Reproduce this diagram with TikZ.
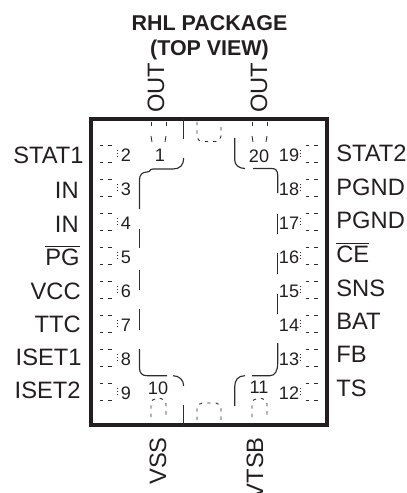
\documentclass[tikz,border=0pt]{standalone}
\usepackage{fontspec}
\setmainfont{Liberation Sans}
\usetikzlibrary{positioning}
\definecolor{pkgblack}{RGB}{35,31,32}
\definecolor{padgrey}{RGB}{45,45,45}
\newcommand{\barlabel}[1]{$\overline{\mbox{#1}}$}

\begin{document}
\begin{tikzpicture}[
    x=0.02cm,y=-0.02cm,
    pinname/.style={draw=none,inner sep=0pt,text=pkgblack,font=\fontsize{13.5}{15}\selectfont},
    pinnum/.style={draw=none,inner sep=0pt,text=pkgblack,font=\fontsize{10.3}{12}\selectfont},
    padline/.style={draw=padgrey,line width=0.5pt,dash pattern=on 1.9pt off 2.8pt},
    padside/.style={draw=padgrey,line width=0.5pt,dash pattern=on 0.7pt off 1.1pt},
    padsolid/.style={draw=padgrey,line width=0.5pt},
    outline/.style={draw=padgrey,line width=0.65pt},
]
\useasboundingbox (0,0) rectangle (406,493);

% Title
\node[draw=none,inner sep=0pt,align=center,text=pkgblack,font=\fontsize{12.2}{14.2}\selectfont\bfseries] (title) at (209.5,37.5) {RHL PACKAGE\\(TOP VIEW)};

% Package body
\draw[draw=pkgblack,line width=2.2pt] (91,119) rectangle (327,425);

% Left pins
\foreach \n/\lbl/\base/\edge in {2/STAT1/164/84,3/IN/198/79,4/IN/232/79,5/{\barlabel{PG}}/265/80,6/VCC/299/81,7/TTC/332/81,8/ISET1/365/82,9/ISET2/398/81}{
  \pgfmathsetmacro{\py}{153.5+34*(\n-2)}
  \node[pinname,anchor=base east] (name\n) at (\edge,\base) {\lbl};
  \node[pinnum] (num\n) at (126,\py+1.5) {\n};
  \draw[padline] (100,\py-8.5) -- (112,\py-8.5);
  \draw[padline] (100,\py+8.5) -- (112,\py+8.5);
  \draw[padside] (117,\py-3.5) -- (117,\py+3.5);
}

% Right pins
\foreach \n/\lbl/\base/\row in {19/STAT2/162/0,18/PGND/195/1,17/PGND/228/2,16/{\barlabel{CE}}/262/3,15/SNS/296/4,14/BAT/329/5,13/FB/362/6,12/TS/396/7}{
  \pgfmathsetmacro{\py}{153.5+34*\row}
  \node[pinname,anchor=base west] (name\n) at (336,\base) {\lbl};
  \node[pinnum] (num\n) at (289,\py+2) {\n};
  \draw[padline] (306,\py-8.5) -- (319,\py-8.5);
  \draw[padline] (306,\py+8.5) -- (319,\py+8.5);
  \draw[padside] (300,\py-3.5) -- (300,\py+3.5);
}

% Top and bottom pin names
\node[pinname,rotate=90,anchor=west] (out1) at (156,113) {OUT};
\node[pinname,rotate=90,anchor=west] (out20) at (259,113) {OUT};
\node[pinname,rotate=90,anchor=east] (vss) at (158,437) {VSS};
\node[pinname,rotate=90,anchor=east] (vtsb) at (255,437) {VTSB};

\node[pinnum] (num1) at (160,155) {1};
\node[pinnum] (num20) at (259,156) {20};
\node[pinnum] (num10) at (158,388) {10};
\node[pinnum] (num11) at (259,387) {11};

% Top pads
\foreach \xa/\xb in {151/166,252/267}{
  \draw[padsolid] (\xa,122) -- (\xa,126);
  \draw[padsolid] (\xb,122) -- (\xb,126);
  \draw[padsolid] (\xa,136) -- (\xa+1,142);
  \draw[padsolid] (\xb,136) -- (\xb-1,142);
}
\draw[padline,rounded corners=3pt] (197,122) -- (197,141.5) -- (221,141.5) -- (221,122);

% Bottom pads
\foreach \xa/\xb in {151/166,252/267}{
  \draw[padline,rounded corners=3pt] (\xa,417) -- (\xa,398.5) -- (\xb,398.5) -- (\xb,417);
}
\draw[padline,rounded corners=3pt] (197,420) -- (197,403) -- (221,403) -- (221,420);

% Thermal pad outline
\draw[outline] (183.7,119) -- (183.7,139);
\draw[outline] (183.7,158) .. controls (183.7,165) and (180,169) .. (173,169) -- (153,169) .. controls (149,169) and (151,172) .. (147,172) .. controls (142,172) and (139.5,175) .. (139.5,180) -- (139.5,209);
\draw[outline] (139.5,229) -- (139.5,248);
\draw[outline] (139.5,270) -- (139.5,290);
\draw[outline] (139.5,309) -- (139.5,330);
\draw[outline] (139.5,349) -- (139.5,368) .. controls (139.5,373) and (142,375.7) .. (147,375.7) -- (167,375.7);
\draw[outline] (173,375.7) .. controls (179,375.7) and (183.7,380) .. (183.7,386);
\draw[outline] (183.7,405) -- (183.7,425);
\draw[outline] (234.7,138) -- (234.7,160) .. controls (234.7,165) and (239,168.5) .. (245,168.5);
\draw[outline] (253,168.5) -- (272,168.5) .. controls (276,168.5) and (277.7,171) .. (277.7,175) -- (277.7,193);
\draw[outline] (277.7,214) -- (277.7,234);
\draw[outline] (277.7,253) -- (277.7,274);
\draw[outline] (277.7,294) -- (277.7,314);
\draw[outline] (277.7,343) -- (277.7,363) .. controls (277.7,371) and (275,375.7) .. (270,375.7) -- (252,375.7);
\draw[outline] (245,375.7) .. controls (238,375.7) and (234.7,380) .. (234.7,387) -- (234.7,406);

\end{tikzpicture}
\end{document}
